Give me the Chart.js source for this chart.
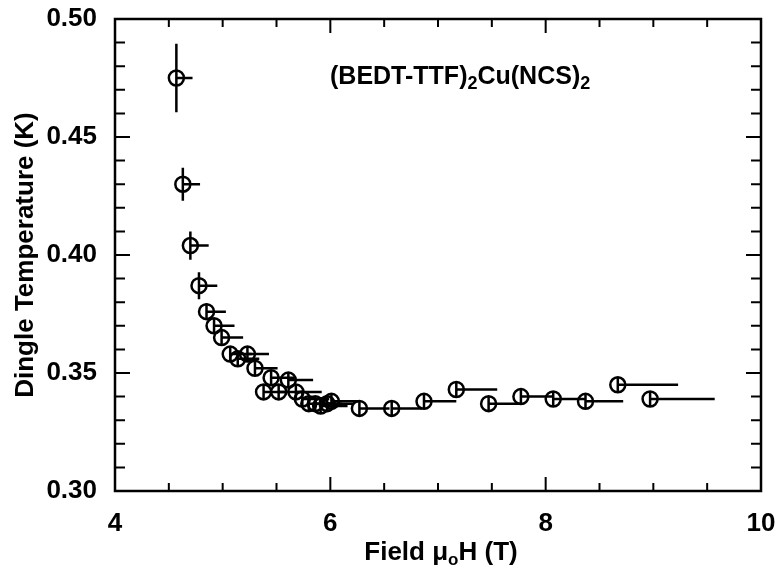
<!DOCTYPE html>
<html>
<head>
<meta charset="utf-8">
<script src="https://cdn.jsdelivr.net/npm/chart.js@4.4.0/dist/chart.umd.min.js"></script>
<style>
  html, body { margin: 0; padding: 0; background: #fff; }
  #wrap { width: 777px; height: 569px; }
</style>
</head>
<body>
<div id="wrap"><canvas id="dingleChart" width="777" height="569"></canvas></div>
<script>
// field (T)
const fieldT = [4.57, 4.63, 4.70, 4.78, 4.85, 4.92, 4.99, 5.07, 5.14, 5.23, 5.30,
  5.38, 5.45, 5.52, 5.61, 5.68, 5.74, 5.80, 5.86, 5.91, 5.97, 6.01,
  6.27, 6.57, 6.87, 7.17, 7.47, 7.77, 8.07, 8.37, 8.67, 8.97];
// Dingle temperature (K)
const dingleK = [0.475, 0.430, 0.404, 0.387, 0.376, 0.370, 0.365, 0.358, 0.356, 0.358, 0.352,
  0.342, 0.348, 0.342, 0.347, 0.342, 0.339, 0.337, 0.337, 0.336, 0.337, 0.338,
  0.335, 0.335, 0.338, 0.343, 0.337, 0.340, 0.339, 0.338, 0.345, 0.339];
// vertical error (+/-) in K
const dingleErr = [0.0145, 0.007, 0.006, 0.0057, 0.0035, 0.003, 0.003, 0.003, 0.003, 0.003, 0.003,
  0.003, 0.003, 0.003, 0.003, 0.003, 0.003, 0.003, 0.003, 0.003, 0.003, 0.003,
  0.003, 0.003, 0.003, 0.003, 0.003, 0.003, 0.003, 0.003, 0.003, 0.003];
// field window, drawn to the right of each point (T)
const fieldSpan = [0.15, 0.16, 0.17, 0.17, 0.18, 0.19, 0.20, 0.20, 0.20, 0.20, 0.21,
  0.20, 0.22, 0.22, 0.23, 0.24, 0.25, 0.25, 0.25, 0.25, 0.25, 0.25,
  0.28, 0.28, 0.30, 0.38, 0.30, 0.30, 0.30, 0.35, 0.56, 0.60];

const xTicks = [4, 6, 8, 10];
const yTicks = [0.30, 0.35, 0.40, 0.45, 0.50];

const fontFam = '"Liberation Sans", Arial, Helvetica, sans-serif';

const errorBars = {
  id: 'errorBars',
  afterDatasetsDraw(chart) {
    const { ctx, scales: { x, y } } = chart;
    ctx.save();
    ctx.strokeStyle = '#000';
    ctx.lineWidth = 2.5;
    fieldT.forEach((f, i) => {
      const px = x.getPixelForValue(f);
      const py = y.getPixelForValue(dingleK[i]);
      ctx.beginPath();
      ctx.moveTo(px, y.getPixelForValue(dingleK[i] + dingleErr[i]));
      ctx.lineTo(px, y.getPixelForValue(dingleK[i] - dingleErr[i]));
      ctx.moveTo(px, py);
      ctx.lineTo(x.getPixelForValue(f + fieldSpan[i]), py);
      ctx.stroke();
    });
    ctx.restore();
  }
};

// draws text pieces in a row, [text, isSubscript]
function drawRich(ctx, parts, x, y, size, subSize, align) {
  const w = parts.reduce((sum, [t, sub]) => {
    ctx.font = 'bold ' + (sub ? subSize : size) + 'px ' + fontFam;
    return sum + ctx.measureText(t).width;
  }, 0);
  let tx = align === 'center' ? x - w / 2 : x;
  parts.forEach(([t, sub]) => {
    ctx.font = 'bold ' + (sub ? subSize : size) + 'px ' + fontFam;
    ctx.fillText(t, tx, sub ? y + size * 0.2 : y);
    tx += ctx.measureText(t).width;
  });
}

// box frame with inward ticks on all four sides, plus the text bits
const frameTicks = {
  id: 'frameTicks',
  afterDraw(chart) {
    const { ctx, chartArea: a, scales: { x, y } } = chart;
    ctx.save();
    ctx.strokeStyle = '#000';
    ctx.lineWidth = 2.5;
    ctx.strokeRect(a.left, a.top, a.right - a.left, a.bottom - a.top);
    ctx.lineWidth = 2;
    ctx.beginPath();
    for (let v = 4; v <= 10.001; v += 0.5) {
      const px = x.getPixelForValue(v);
      const len = Math.abs(v - Math.round(v / 2) * 2) < 0.01 ? 14 : 8;
      ctx.moveTo(px, a.bottom); ctx.lineTo(px, a.bottom - len);
      ctx.moveTo(px, a.top); ctx.lineTo(px, a.top + len);
    }
    for (let k = 30; k <= 50; k++) {
      const py = y.getPixelForValue(k / 100);
      const len = k % 5 === 0 ? 15 : 10;
      ctx.moveTo(a.left, py); ctx.lineTo(a.left + len, py);
      ctx.moveTo(a.right, py); ctx.lineTo(a.right - len, py);
    }
    ctx.stroke();

    ctx.fillStyle = '#000';
    ctx.textBaseline = 'alphabetic';
    drawRich(ctx, [['(BEDT-TTF)', false], ['2', true], ['Cu(NCS)', false], ['2', true]],
      330, 84, 25, 18, 'left');
    // x axis title
    drawRich(ctx, [['Field \u03bc', false], ['o', true], ['H (T)', false]],
      (a.left + a.right) / 2 + 3, 560, 26, 17, 'center');
    ctx.restore();
  }
};

new Chart(document.getElementById('dingleChart'), {
  type: 'scatter',
  data: {
    datasets: [{
      label: 'Dingle temperature',
      data: fieldT.map((f, i) => ({ x: f, y: dingleK[i] })),
      pointStyle: 'circle',
      pointRadius: 7.5,
      pointHoverRadius: 7.5,
      borderColor: '#000',
      borderWidth: 2.5,
      backgroundColor: 'rgba(0,0,0,0)'
    }]
  },
  options: {
    responsive: false,
    animation: false,
    events: [],
    layout: { padding: { top: 19, right: 16, left: 0, bottom: 0 } },
    plugins: { legend: { display: false }, tooltip: { enabled: false } },
    scales: {
      x: {
        type: 'linear',
        min: 4, max: 10,
        afterFit: (s) => { s.height = 78; s.paddingLeft = 0; s.paddingRight = 0; },
        afterBuildTicks: (s) => { s.ticks = xTicks.map(v => ({ value: v })); },
        grid: { display: false },
        border: { display: false },
        ticks: {
          padding: 9,
          color: '#000',
          font: { family: fontFam, size: 26, weight: 'bold' },
          callback: (v) => String(v)
        }
      },
      y: {
        type: 'linear',
        min: 0.30, max: 0.50,
        afterFit: (s) => { s.width = 115; s.paddingTop = 0; s.paddingBottom = 0; },
        afterBuildTicks: (s) => { s.ticks = yTicks.map(v => ({ value: v })); },
        grid: { display: false },
        border: { display: false },
        ticks: {
          padding: 10,
          color: '#000',
          font: { family: fontFam, size: 26, weight: 'bold' },
          callback: (v) => Number(v).toFixed(2)
        },
        title: {
          display: true,
          text: 'Dingle Temperature (K)',
          color: '#000',
          font: { family: fontFam, size: 26, weight: 'bold' },
          padding: { top: 10, bottom: 0 }
        }
      }
    }
  },
  plugins: [errorBars, frameTicks]
});
</script>
</body>
</html>
